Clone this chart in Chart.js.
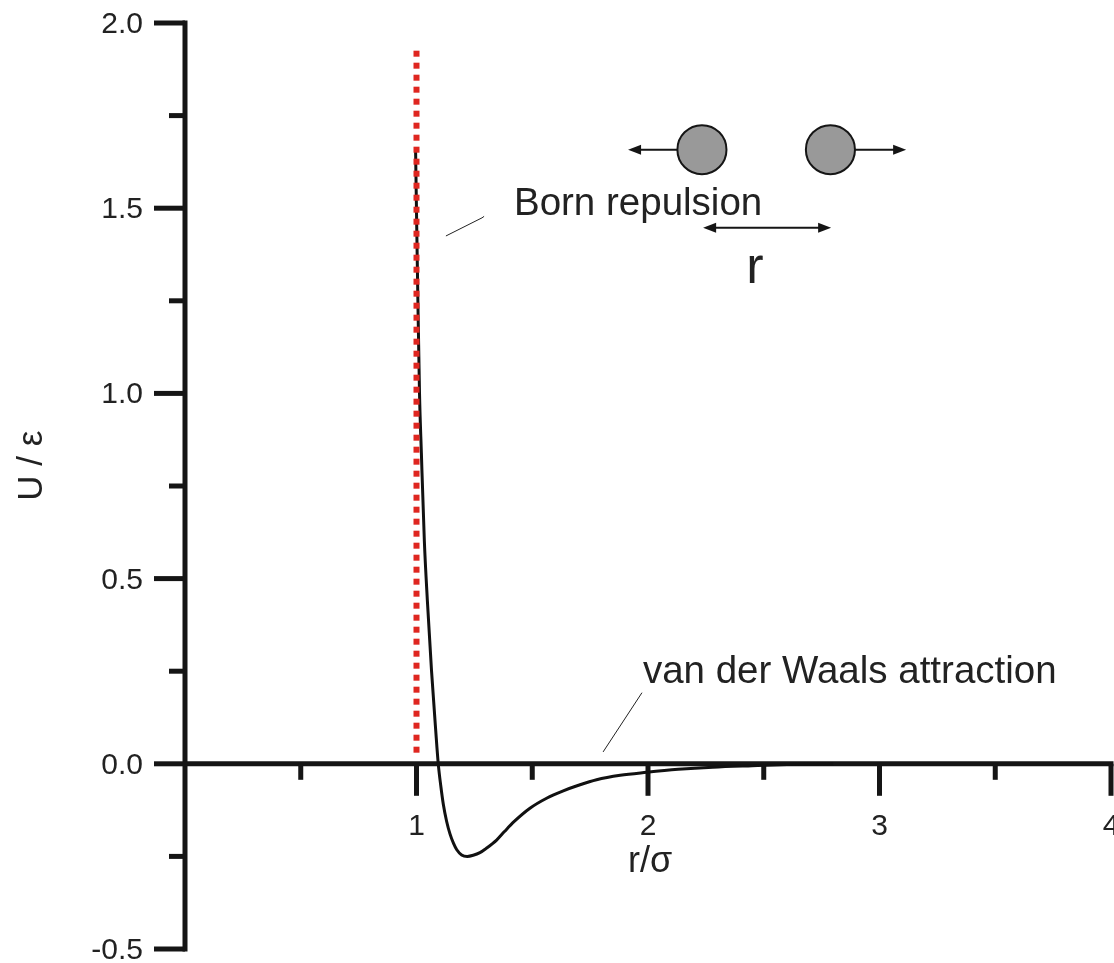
<!DOCTYPE html>
<html>
<head>
<meta charset="utf-8">
<script src="https://cdn.jsdelivr.net/npm/chart.js@4.4.0/dist/chart.umd.min.js"></script>
<style>
  html, body { margin: 0; padding: 0; background: #fff; }
  #wrap { width: 1114px; height: 963px; position: relative; }
</style>
</head>
<body>
<div id="wrap"><canvas id="grafica"></canvas></div>
<script>
// datos de la curva de potencial
const rValues = [0.996, 1.001, 1.006, 1.013, 1.021, 1.034, 1.047, 1.065, 1.083, 1.094, 1.105, 1.116, 1.13, 1.145, 1.16, 1.174, 1.195, 1.219, 1.245, 1.274, 1.30, 1.346, 1.38, 1.42, 1.49, 1.562, 1.634, 1.70, 1.778, 1.88, 1.994, 2.13, 2.28, 2.45, 2.6, 2.8];
const uValues = [1.66, 1.45, 1.25, 1.0, 0.84, 0.60, 0.44, 0.25, 0.09, 0.0, -0.06, -0.11, -0.155, -0.19, -0.215, -0.232, -0.246, -0.25, -0.247, -0.24, -0.229, -0.206, -0.183, -0.157, -0.12, -0.093, -0.073, -0.058, -0.043, -0.031, -0.023, -0.015, -0.009, -0.005, -0.002, 0.0];

// linea punteada roja en r = sigma
const wallX = [1, 1];
const wallY = [0.03, 1.93];

// ticks de los ejes
const xMajorTicks = [1, 2, 3, 4];
const xMinorTicks = [0.5, 1.5, 2.5, 3.5];
const xTickLabels = ['1', '2', '3', '4'];
const yMajorTicks = [-0.5, 0, 0.5, 1, 1.5, 2];
const yMinorTicks = [-0.25, 0.25, 0.75, 1.25, 1.75];
const yTickLabels = ['-0.5', '0.0', '0.5', '1.0', '1.5', '2.0'];

const FONT = '"Liberation Sans", Arial, sans-serif';
const INK = '#151515';

// Ejes dibujados a mano con las escalas de Chart.js
const axesPlugin = {
  id: 'ejes',
  beforeDatasetsDraw(chart) {
    const ctx = chart.ctx;
    const xs = chart.scales.x, ys = chart.scales.y;
    const x0 = xs.getPixelForValue(0);
    const y0 = ys.getPixelForValue(0);
    ctx.save();
    ctx.strokeStyle = INK;
    ctx.lineWidth = 5;
    ctx.lineCap = 'butt';
    // eje y
    ctx.beginPath();
    ctx.moveTo(x0, ys.getPixelForValue(2) - 2.5);
    ctx.lineTo(x0, ys.getPixelForValue(-0.5) + 2.5);
    ctx.stroke();
    // eje x
    ctx.beginPath();
    ctx.moveTo(x0, y0);
    ctx.lineTo(xs.getPixelForValue(4) + 2.5, y0);
    ctx.stroke();
    // ticks y
    yMajorTicks.forEach(v => {
      const p = ys.getPixelForValue(v);
      ctx.beginPath(); ctx.moveTo(x0 - 31, p); ctx.lineTo(x0, p); ctx.stroke();
    });
    yMinorTicks.forEach(v => {
      const p = ys.getPixelForValue(v);
      ctx.beginPath(); ctx.moveTo(x0 - 16, p); ctx.lineTo(x0, p); ctx.stroke();
    });
    // ticks x
    xMajorTicks.forEach(v => {
      const p = xs.getPixelForValue(v);
      ctx.beginPath(); ctx.moveTo(p, y0); ctx.lineTo(p, y0 + 32); ctx.stroke();
    });
    xMinorTicks.forEach(v => {
      const p = xs.getPixelForValue(v);
      ctx.beginPath(); ctx.moveTo(p, y0); ctx.lineTo(p, y0 + 16); ctx.stroke();
    });
    // etiquetas
    ctx.fillStyle = '#222';
    ctx.font = '30px ' + FONT;
    ctx.textAlign = 'right';
    ctx.textBaseline = 'alphabetic';
    yMajorTicks.forEach((v, i) => {
      ctx.fillText(yTickLabels[i], x0 - 42, ys.getPixelForValue(v) + 10);
    });
    ctx.textAlign = 'center';
    xMajorTicks.forEach((v, i) => {
      ctx.fillText(xTickLabels[i], xs.getPixelForValue(v), y0 + 71);
    });
    // titulos
    ctx.font = '36px ' + FONT;
    ctx.fillText('r/\u03c3', xs.getPixelForValue(2.009), ys.getPixelForValue(-0.292));
    ctx.save();
    ctx.translate(xs.getPixelForValue(-0.618), ys.getPixelForValue(0.805));
    ctx.rotate(-Math.PI / 2);
    ctx.font = '35px ' + FONT;
    ctx.fillText('U / \u03b5', 0, 0);
    ctx.restore();
    ctx.restore();
  }
};

function arrowHead(ctx, x, y, dir) {
  ctx.beginPath();
  ctx.moveTo(x, y);
  ctx.lineTo(x - dir * 13, y - 5);
  ctx.lineTo(x - dir * 13, y + 5);
  ctx.closePath();
  ctx.fill();
}

// Anotaciones: textos, lineas guia y las dos particulas
const notesPlugin = {
  id: 'notas',
  afterDraw(chart) {
    const ctx = chart.ctx;
    const xs = chart.scales.x, ys = chart.scales.y;
    const X = v => xs.getPixelForValue(v);
    const Y = v => ys.getPixelForValue(v);
    ctx.save();
    ctx.fillStyle = '#222';
    ctx.font = '38.5px ' + FONT;
    ctx.textAlign = 'left';
    ctx.textBaseline = 'alphabetic';
    ctx.fillText('Born repulsion', X(1.421), Y(1.482));
    ctx.fillText('van der Waals attraction', X(1.978), Y(0.219));

    // lineas guia
    ctx.strokeStyle = '#222';
    ctx.lineWidth = 1;
    ctx.beginPath();
    ctx.moveTo(X(1.127), Y(1.425));
    ctx.lineTo(X(1.283), Y(1.474));
    ctx.lineTo(X(1.292), Y(1.478));
    ctx.stroke();
    ctx.beginPath();
    ctx.moveTo(X(1.974), Y(0.192));
    ctx.lineTo(X(1.806), Y(0.032));
    ctx.stroke();

    // particulas
    const cy = Y(1.658);
    const rad = 0.106 * (X(1) - X(0));
    ctx.fillStyle = '#999999';
    ctx.strokeStyle = INK;
    ctx.lineWidth = 2;
    [2.233, 2.788].forEach(cx => {
      ctx.beginPath();
      ctx.arc(X(cx), cy, rad, 0, Math.PI * 2);
      ctx.fill();
      ctx.stroke();
    });

    // flechas
    ctx.fillStyle = INK;
    ctx.lineWidth = 2;
    ctx.beginPath();
    ctx.moveTo(X(2.233) - rad, cy); ctx.lineTo(X(1.914) + 8, cy);
    ctx.moveTo(X(2.788) + rad, cy); ctx.lineTo(X(3.115) - 8, cy);
    ctx.stroke();
    arrowHead(ctx, X(1.914), cy, -1);
    arrowHead(ctx, X(3.115), cy, 1);
    const ay = Y(1.447);
    ctx.beginPath();
    ctx.moveTo(X(2.238) + 8, ay); ctx.lineTo(X(2.791) - 8, ay);
    ctx.stroke();
    arrowHead(ctx, X(2.238), ay, -1);
    arrowHead(ctx, X(2.791), ay, 1);

    ctx.fillStyle = '#222';
    ctx.font = '52px ' + FONT;
    ctx.textAlign = 'center';
    ctx.fillText('r', X(2.462), Y(1.299));
    ctx.restore();
  }
};

const ctx = document.getElementById('grafica').getContext('2d');
const myChart = new Chart(ctx, {
  type: 'scatter',
  data: {
    datasets: [
      {
        label: 'Born',
        data: wallX.map((x, i) => ({ x: x, y: wallY[i] })),
        showLine: true,
        borderColor: '#df2620',
        borderWidth: 6,
        borderDash: [6, 6],
        pointRadius: 0,
        order: 0
      },
      {
        label: 'U',
        data: rValues.map((r, i) => ({ x: r, y: uValues[i] })),
        showLine: true,
        borderColor: '#111111',
        borderWidth: 3,
        pointRadius: 0,
        cubicInterpolationMode: 'monotone',
        order: 1
      }
    ]
  },
  options: {
    responsive: true,
    maintainAspectRatio: false,
    animation: false,
    layout: { padding: { left: 185, right: 3, top: 23, bottom: 14 } },
    plugins: {
      legend: { display: false },
      tooltip: { enabled: false }
    },
    scales: {
      x: { type: 'linear', min: 0, max: 4, display: false },
      y: { type: 'linear', min: -0.5, max: 2, display: false }
    }
  },
  plugins: [axesPlugin, notesPlugin]
});
</script>
</body>
</html>
